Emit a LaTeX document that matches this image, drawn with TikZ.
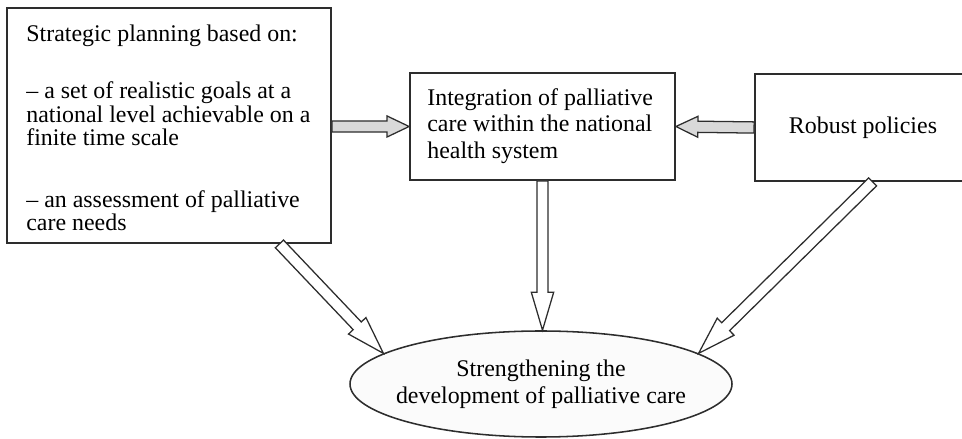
\documentclass[tikz,border=0pt]{standalone}
\usepackage{fontspec}
\setmainfont{Liberation Serif}
\usepackage{tikz}
\usetikzlibrary{calc,shapes}
\definecolor{linegray}{RGB}{45,45,45}
\tikzset{
    box/.style={
    rectangle,draw=linegray,line width=1.3pt,inner sep=0pt
    },
    goalshape/.style={
    ellipse,draw=linegray,line width=1.1pt,fill=gray!3,inner sep=0pt,
    minimum width=9.55cm,minimum height=2.65cm
    },
    blockline/.style={
    draw=linegray,line width=0.9pt,line join=miter
    },
    bodytext/.style={
    font=\fontsize{17}{#1}\selectfont,inner sep=0pt
    },
}
% wide hollow arrow from #2 to #3, head length #4, head half width #5
\newcommand{\shafthalf}{0.14cm}
\newcommand{\blockarrow}[5][white]{
  \coordinate (ba-s) at (#2);
  \coordinate (ba-t) at (#3);
  \coordinate (ba-h) at ($(ba-t)!#4!(ba-s)$);
  \draw[blockline,fill=#1]
    ($(ba-s)!\shafthalf!90:(ba-t)$) -- ($(ba-h)!\shafthalf!90:(ba-t)$)
    -- ($(ba-h)!#5!90:(ba-t)$) -- (ba-t) -- ($(ba-h)!#5!-90:(ba-t)$)
    -- ($(ba-h)!\shafthalf!-90:(ba-t)$) -- ($(ba-s)!\shafthalf!-90:(ba-t)$) -- cycle;
}

\begin{document}
\begin{tikzpicture}
   \useasboundingbox (0,0) rectangle (24.05,10.975);

   %boxes on top
   \node[box,minimum width=8.1cm,minimum height=5.875cm] (plan) at (4.225,7.8375) {};
   \node[bodytext=16.9,align=left,anchor=north west] (plantext) at ($(plan.north west)+(0.5,-0.45)$)
     {Strategic planning based on:\\[0.815cm]
      \textendash{} a set of realistic goals at a\\
      national level achievable on a\\
      finite time scale\\[0.94cm]
      \textendash{} an assessment of palliative\\
      care needs};
   \node[box,minimum width=6.625cm,minimum height=2.675cm] (nhs) at (13.5625,7.8125) {};
   \node[bodytext=18.85,align=left,anchor=west] (nhstext) at ($(nhs.west)+(0.45,0.02)$)
     {Integration of palliative\\care within the national\\health system};
   \node[box,bodytext=18.85,minimum width=5.4cm,minimum height=2.675cm] (policy) at (21.575,7.7875) {Robust policies};

   %outcome
   \node[goalshape] (goal) at (13.525,1.375) {};
   \node[bodytext=19.2,align=center] (goaltext) at (goal.center) {Strengthening the\\development of palliative care};

   %arrows into the integration box
   \blockarrow[gray!30]{plan.east |- nhs.west}{nhs.west}{0.55cm}{0.2625cm}
   \blockarrow[gray!30]{policy.west}{nhs.east}{0.55cm}{0.2625cm}

   %arrows into the outcome
   \blockarrow{plan.-47}{goal.169}{0.95cm}{0.3cm}
   \blockarrow{nhs.south}{nhs.south |- goal.north}{0.95cm}{0.28cm}
   \blockarrow{policy.-80}{goal.11}{0.95cm}{0.3cm}
\end{tikzpicture}
\end{document}
